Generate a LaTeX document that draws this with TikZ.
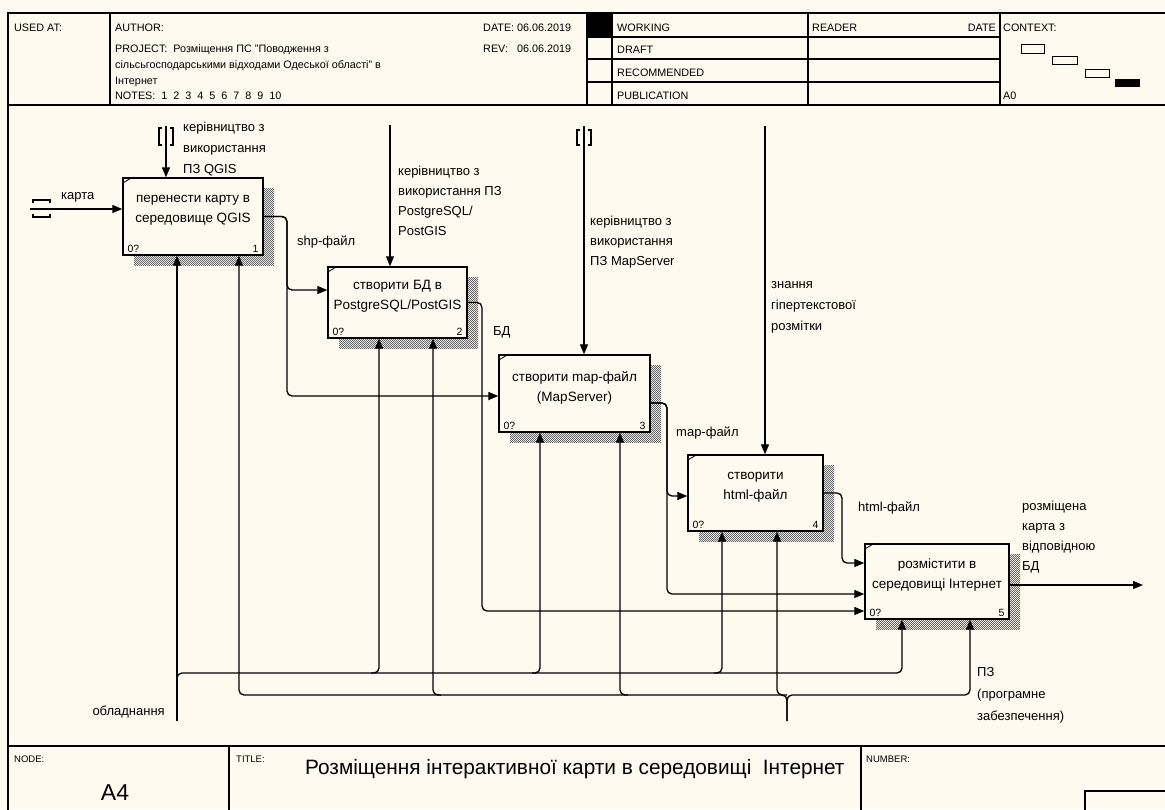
\documentclass[tikz,border=0pt]{standalone}
\usepackage{fontspec}
\setmainfont{Liberation Sans}
\usetikzlibrary{arrows.meta,positioning,calc,patterns,shadows}
\definecolor{paper}{RGB}{255,250,240}
\pgfdeclarepatternformonly{hatchdots}{\pgfqpoint{0pt}{0pt}}{\pgfqpoint{2.4pt}{2.4pt}}{\pgfqpoint{2.4pt}{2.4pt}}{%
  \pgfpathrectangle{\pgfqpoint{0pt}{0pt}}{\pgfqpoint{1.2pt}{1.2pt}}%
  \pgfpathrectangle{\pgfqpoint{1.2pt}{1.2pt}}{\pgfqpoint{1.2pt}{1.2pt}}%
  \pgfusepath{fill}}

\begin{document}
\begin{tikzpicture}[
  x=1pt, y=-1pt,
  font=\fontsize{13}{21}\selectfont,
  rim/.style={line width=1.4pt},
  actbox/.style={draw, line width=1.4pt, fill=paper, inner sep=0pt,
                 general shadow={shadow xshift=11pt, shadow yshift=-10pt,
                                 pattern=hatchdots, pattern color=black!60}},
  acttext/.style={align=center, inner sep=0pt, font=\fontsize{13.5}{20}\selectfont},
  numl/.style={inner xsep=5pt, inner ysep=3pt, font=\fontsize{10.5}{12}\selectfont},
  lbl/.style={align=left, inner sep=0pt},
  hdr/.style={anchor=base west, inner sep=0pt, font=\fontsize{10.8}{12}\selectfont},
  ftr/.style={anchor=base west, inner sep=0pt, font=\fontsize{9.5}{11}\selectfont},
  arr/.style={-{Triangle[length=10pt,width=8pt]}, line width=1.3pt, rounded corners=5pt},
  tunnel/.style={line width=1.1pt}
]
  \useasboundingbox (0,0) rectangle (1165,809);
  \fill[paper] (0,0) rectangle (1165,809);
  \clip (0,0) rectangle (1165,809);

  % form: frame, header and footer
  \draw[rim] (8,13) rectangle (1180,830);
  \draw[rim] (8,105) -- (1180,105);
  \draw[rim] (8,746) -- (1180,746);
  \draw[rim] (110,13) -- (110,105);
  \draw[rim] (587,13) -- (587,105);
  \draw[rim] (612,13) -- (612,105);
  \draw[rim] (808,13) -- (808,105);
  \draw[rim] (1000,13) -- (1000,105);
  \foreach \yy in {37,59,82}
    \draw[rim] (587,\yy) -- (1000,\yy);
  \fill (587,13) rectangle (612,37);
  \draw[rim] (229,746) -- (229,830);
  \draw[rim] (861,746) -- (861,830);
  \draw[rim] (1085,791) rectangle (1180,830);

  \node[hdr] (usedat) at (14,31) {USED AT:};
  \node[hdr] (author) at (115,31) {AUTHOR:};
  \node[hdr] (project) at (115,52) {PROJECT:\ \ Розміщення ПС "Поводження з};
  \node[hdr] (project2) at (115,68) {сільсьгосподарськими відходами Одеської області" в};
  \node[hdr] (project3) at (115,84) {Інтернет};
  \node[hdr] (notes) at (115,99) {NOTES:\ \ 1\ \ 2\ \ 3\ \ 4\ \ 5\ \ 6\ \ 7\ \ 8\ \ 9\ \ 10};
  \node[hdr] (datek) at (483,31) {DATE:};
  \node[hdr] (datev) at (517,31) {06.06.2019};
  \node[hdr] (revk) at (483,52) {REV:};
  \node[hdr] (revv) at (517,52) {06.06.2019};
  \node[hdr] (working) at (617,31) {WORKING};
  \node[hdr] (draft) at (617,53) {DRAFT};
  \node[hdr] (recommended) at (617,76) {RECOMMENDED};
  \node[hdr] (publication) at (617,99) {PUBLICATION};
  \node[hdr] (reader) at (812,31) {READER};
  \node[hdr, anchor=base east] (rdate) at (996,31) {DATE};
  \node[hdr] (context) at (1003,31) {CONTEXT:};
  \node[hdr] (parent) at (1003,99) {A0};
  % context map
  \draw[line width=1pt] (1021,44) rectangle (1044,53);
  \draw[line width=1pt] (1052,56) rectangle (1077,64);
  \draw[line width=1pt] (1085,69) rectangle (1109,77);
  \fill (1115,79) rectangle (1140,87);

  \node[ftr] (nodek) at (14,762) {NODE:};
  \node[font=\fontsize{23}{26}\selectfont, inner sep=0pt] (nodev) at (115,793) {A4};
  \node[ftr] (titlek) at (236,762) {TITLE:};
  \node[anchor=base west, inner sep=0pt, font=\fontsize{20.8}{24}\selectfont] (titlev) at (305,774)
       {Розміщення інтерактивної карти в середовищі\ \ Інтернет};
  \node[ftr] (numberk) at (866,762) {NUMBER:};

  % activity boxes
  \node[actbox, minimum width=140pt, minimum height=77pt] (b1) at (193,216.5) {};
  \node[actbox, minimum width=139pt, minimum height=71pt] (b2) at (397.5,302.5) {};
  \node[actbox, minimum width=151pt, minimum height=77pt] (b3) at (574.5,393.5) {};
  \node[actbox, minimum width=135pt, minimum height=76pt] (b4) at (755.5,493) {};
  \node[actbox, minimum width=144pt, minimum height=75pt] (b5) at (937,581.5) {};

  \node[acttext] (b1t) at ([yshift=6pt]b1.center) {перенести карту в\\середовище QGIS};
  \node[acttext] (b2t) at ([yshift=6pt]b2.center) {створити БД в\\PostgreSQL/PostGIS};
  \node[acttext] (b3t) at ([yshift=6pt]b3.center) {створити map-файл\\(MapServer)};
  \node[acttext] (b4t) at ([yshift=6pt]b4.center) {створити\\html-файл};
  \node[acttext] (b5t) at ([yshift=6pt]b5.center) {розмістити в\\середовищі Інтернет};

  \foreach \b/\n in {b1/1,b2/2,b3/3,b4/4,b5/5} {
    \draw[line width=0.8pt] ([yshift=-6pt]\b.north west) -- ([xshift=10pt]\b.north west);
    \node[numl, anchor=south west] (\b-zero) at (\b.south west) {0?};
    \node[numl, anchor=south east] (\b-num) at (\b.south east) {\n};
  }

  % free ends of the boundary arrows
  \coordinate (inMap) at (30,209);
  \coordinate (ctlQ) at (166,126);
  \coordinate (ctlP) at (390,125);
  \coordinate (ctlM) at (584,126);
  \coordinate (ctlH) at (765,126);
  \coordinate (mechHw) at (177,721);
  \coordinate (mechSw) at (787,721);
  \coordinate (outWeb) at (1143,585);

  % tunnels
  \draw[tunnel] (33,203) |- (50,200) -- (50,203);
  \draw[tunnel] (33,214) |- (50,217) -- (50,214);
  \draw[tunnel] (162,128) -| (159,145) -- (162,145);
  \draw[tunnel] (170,128) -| (173,145) -- (170,145);
  \draw[tunnel] (580,130) -| (577,145) -- (580,145);
  \draw[tunnel] (588,130) -| (591,145) -- (588,145);

  % input and controls
  \draw[arr] (inMap) -- (inMap -| b1.west);
  \draw[arr] (ctlQ) -- (ctlQ |- b1.north);
  \draw[arr] (ctlP) -- (ctlP |- b2.north);
  \draw[arr] (ctlM) -- (ctlM |- b3.north);
  \draw[arr] (ctlH) -- (ctlH |- b4.north);

  % outputs feeding the next steps
  \draw[arr] (b1.east) -| (287,290) -- (b2.west |- 0,290);
  \draw[arr] (b1.east) -| (287,396) -- (b3.west |- 0,396);
  \draw[arr] (b2.east) -| (482,611) -- (b5.west |- 0,611);
  \draw[arr] (b3.east |- 0,403) -| (667,496) -- (b4.west |- 0,496);
  \draw[arr] (b3.east |- 0,403) -| (667,594) -- (b5.west |- 0,594);
  \draw[arr] (b4.east) -| (842,563) -- (b5.west |- 0,563);
  \draw[arr] (b5.east |- outWeb) -- (outWeb);

  % mechanism: equipment
  \draw[arr] (mechHw) -- (mechHw |- b1.south);
  \draw[arr] (177,683) |- (902,673) -- (902,0 |- b5.south);
  \draw[arr] (371,673) -| (379,0 |- b2.south);
  \draw[arr] (532,673) -| (540,0 |- b3.south);
  \draw[arr] (714,673) -| (722,0 |- b4.south);
  % mechanism: software
  \draw[arr] (mechSw) |- (239,695) -- (239,0 |- b1.south);
  \draw[arr] (mechSw) |- (970,695) -- (970,0 |- b5.south);
  \draw[arr] (441,695) -| (433,0 |- b2.south);
  \draw[arr] (628,695) -| (620,0 |- b3.south);
  \draw[arr] (787,695) -| (777,0 |- b4.south);

  % arrow labels
  \node[anchor=base west, inner sep=0pt] (lMap) at (61,199.5) {карта};
  \node[lbl, anchor=north west] (lCtlQ) at (183,122) {керівництво з\\використання\\ПЗ QGIS};
  \node[lbl, anchor=north west, font=\fontsize{13}{20}\selectfont] (lCtlP) at (398,166)
       {керівництво з\\використання ПЗ\\PostgreSQL/\\PostGIS};
  \node[lbl, anchor=north west, font=\fontsize{13}{20}\selectfont] (lCtlM) at (590,216)
       {керівництво з\\використання\\ПЗ MapServer};
  \node[lbl, anchor=north west] (lCtlH) at (771,281) {знання\\гіпертекстової\\розмітки};
  \node[anchor=base west, inner sep=0pt] (lShp) at (297,245) {shp-файл};
  \node[anchor=base west, inner sep=0pt] (lDb) at (493,335) {БД};
  \node[anchor=base west, inner sep=0pt] (lMapf) at (676,436) {map-файл};
  \node[anchor=base west, inner sep=0pt] (lHtml) at (858,511) {html-файл};
  \node[lbl, anchor=north west, font=\fontsize{13}{20}\selectfont] (lOut) at (1022,501)
       {розміщена\\карта з\\відповідною\\БД};
  \node[anchor=base east, inner sep=0pt] (lHw) at (165,715) {обладнання};
  \node[lbl, anchor=north west, font=\fontsize{13}{22}\selectfont] (lSw) at (977,667)
       {ПЗ\\(програмне\\забезпечення)};
\end{tikzpicture}
\end{document}
